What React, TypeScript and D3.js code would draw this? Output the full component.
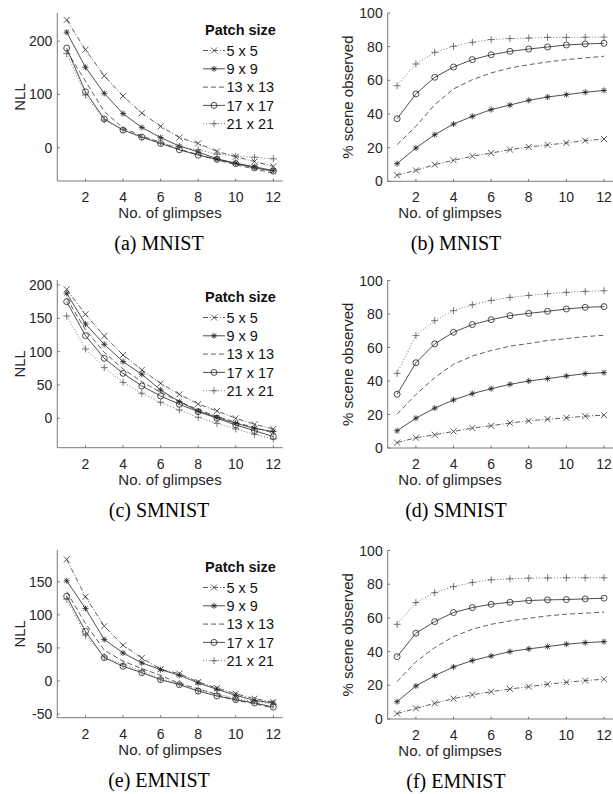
import React from "react";
import * as d3 from "d3";

const glimpses = [1, 2, 3, 4, 5, 6, 7, 8, 9, 10, 11, 12];
const patchSizes = ["5 x 5", "9 x 9", "13 x 13", "17 x 17", "21 x 21"];
const xTicks = [2, 4, 6, 8, 10, 12];

// NLL, MNIST (a)
const nllMnist5 = [240, 184, 135, 97, 65, 40, 19, 8, -7, -17, -26, -35];
const nllMnist9 = [217, 151, 102, 64, 38, 19, 3, -8, -21, -29, -36, -43];
const nllMnist13 = [182, 125, 68, 37, 22, 10, -3, -13, -23, -32, -40, -48];
const nllMnist17 = [187, 105, 54, 33, 20, 8, -4, -14, -22, -30, -38, -44];
const nllMnist21 = [177, 99, 52, 34, 19, 8, 2, -4, -12, -16, -18, -21];

// % scene observed, MNIST (b)
const obsMnist5 = [3.6, 6.5, 9.9, 12.5, 14.9, 16.8, 18.8, 20.4, 21.6, 22.8, 24.2, 25.1];
const obsMnist9 = [10.5, 19.8, 27.7, 34, 38.6, 42.6, 45.3, 48.1, 50.1, 51.5, 52.9, 54];
const obsMnist13 = [21.8, 32.7, 45.5, 54.9, 60.4, 64.4, 67.3, 69.3, 70.9, 72.3, 73.3, 74.3];
const obsMnist17 = [37.2, 51.9, 61.8, 67.9, 72.3, 75.2, 77.2, 78.6, 79.8, 81, 81.6, 82];
const obsMnist21 = [56.8, 69.7, 76.6, 80.2, 82.6, 84.2, 84.8, 85.1, 85.5, 85.5, 85.6, 85.7];

// NLL, SMNIST (c)
const nllSmnist5 = [193.5, 156, 123.5, 95, 72.5, 52.5, 36, 21.5, 11, 0, -9, -16];
const nllSmnist9 = [187.5, 141.5, 111, 85, 66, 42.5, 25, 11, 1.5, -7.5, -15, -20];
const nllSmnist13 = [180, 133, 99, 74, 55, 39, 25, 13, 3, -6, -14, -22];
const nllSmnist17 = [175, 124, 90, 67.5, 48.5, 33.5, 21, 10, 0, -10, -18.5, -27.5];
const nllSmnist21 = [153.5, 104, 76, 54, 37.5, 24, 12.5, 1.5, -7.5, -16, -24, -31];

// % scene observed, SMNIST (d)
const obsSmnist5 = [3.2, 6.1, 7.9, 9.9, 11.9, 13.3, 14.9, 16.2, 17.2, 18, 19, 19.6];
const obsSmnist9 = [10.3, 17.8, 23.8, 28.7, 32.5, 35.4, 38, 40, 41.4, 43, 44.4, 45];
const obsSmnist13 = [20.2, 32, 42, 50, 54.9, 58.2, 60.8, 62.4, 64.2, 65.3, 66.5, 67.3];
const obsSmnist17 = [32.1, 50.9, 62.2, 69.1, 73.7, 76.6, 79, 80.4, 81.6, 83, 84, 84.4];
const obsSmnist21 = [44.6, 67.1, 76, 82, 85.5, 88.1, 89.9, 91.1, 92.1, 92.9, 93.5, 93.9];

// NLL, EMNIST (e)
const nllEmnist5 = [183.8, 127.3, 82.8, 54, 34.8, 17.7, 11.1, -1.5, -10.6, -19.2, -26.8, -31.8];
const nllEmnist9 = [151.5, 109.6, 62.6, 42.4, 27.3, 17.2, 8.6, -3, -12.6, -21.7, -29.3, -33.3];
const nllEmnist13 = [135, 87, 46.5, 30, 18.7, 8.6, -4, -11.6, -20.7, -29.3, -34.3, -41];
const nllEmnist17 = [128, 75, 35.4, 22.2, 12.6, 2, -5.6, -15.2, -22.7, -28.3, -33.3, -39.4];
const nllEmnist21 = [123.7, 69.2, 36.4, 25.3, 15.2, 3.5, -4, -14, -19.2, -26.8, -30.8, -35.4];

// % scene observed, EMNIST (f)
const obsEmnist5 = [3.2, 6.3, 9.3, 12.1, 14.3, 16.2, 17.8, 19.2, 20.6, 21.8, 22.8, 23.6];
const obsEmnist9 = [10.3, 19.6, 25.7, 30.9, 34.7, 37.4, 40, 41.6, 43, 44.4, 45.3, 45.9];
const obsEmnist13 = [22.2, 34, 42.4, 48.9, 53.3, 56.2, 58.2, 59.8, 61.2, 62.2, 62.8, 63.4];
const obsEmnist17 = [37, 50.9, 57.8, 63.2, 66.1, 68.1, 69.3, 70.3, 70.7, 70.9, 71.3, 71.7];
const obsEmnist21 = [56.2, 69.1, 75, 78.6, 81, 82.6, 83.2, 83.6, 83.7, 83.8, 83.8, 83.8];

const nllTicksA = [0, 100, 200];
const nllTicksC = [0, 50, 100, 150, 200];
const nllTicksE = [-50, 0, 50, 100, 150];
const obsTicks = [0, 20, 40, 60, 80, 100];

const captions = ["(a) MNIST", "(b) MNIST", "(c) SMNIST", "(d) SMNIST", "(e) EMNIST", "(f) EMNIST"];

type Style = { dash: string; marker: string; color: string };
const styles: Style[] = [
  { dash: "5,2,1,2", marker: "x", color: "#333" },
  { dash: "", marker: "*", color: "#222" },
  { dash: "5,3", marker: "", color: "#333" },
  { dash: "", marker: "o", color: "#222" },
  { dash: "1,2", marker: "+", color: "#555" },
];

const FONT = "Liberation Sans, Arial, Helvetica, sans-serif";
const TXT = "#262626";
const AX = "#555";

function Marker({ type, x, y, color }: { type: string; x: number; y: number; color: string }) {
  const s = 3;
  const common = { stroke: color, strokeWidth: 0.8, fill: "none" };
  if (type === "x")
    return (
      <g {...common}>
        <line x1={x - s} y1={y - s} x2={x + s} y2={y + s} />
        <line x1={x - s} y1={y + s} x2={x + s} y2={y - s} />
      </g>
    );
  if (type === "+")
    return (
      <g {...common}>
        <line x1={x - s - 0.5} y1={y} x2={x + s + 0.5} y2={y} />
        <line x1={x} y1={y - s - 0.5} x2={x} y2={y + s + 0.5} />
      </g>
    );
  if (type === "*")
    return (
      <g {...common}>
        <line x1={x - s} y1={y} x2={x + s} y2={y} />
        <line x1={x} y1={y - s} x2={x} y2={y + s} />
        <line x1={x - 2.2} y1={y - 2.2} x2={x + 2.2} y2={y + 2.2} />
        <line x1={x - 2.2} y1={y + 2.2} x2={x + 2.2} y2={y - 2.2} />
      </g>
    );
  if (type === "o") return <circle cx={x} cy={y} r={3} {...common} />;
  return null;
}

type PanelProps = {
  series: number[][];
  yDomain: [number, number];
  yRange: [number, number];
  xRange: [number, number];
  yTicks: number[];
  yLabel: string;
  yLabelX: number;
  xLabelX: number;
  caption: string;
  captionX: number;
  legend: boolean;
};

function Panel(p: PanelProps) {
  const x = d3.scaleLinear().domain([0.5, 12.5]).range(p.xRange);
  const y = d3.scaleLinear().domain(p.yDomain).range(p.yRange);
  const [bottom, top] = p.yRange;
  const [left, right] = p.xRange;
  const line = d3
    .line<number>()
    .x((_, i) => x(glimpses[i]))
    .y((v) => y(v));
  const midY = (top + bottom) / 2;
  return (
    <g>
      {/* axes */}
      <line x1={left} y1={bottom} x2={right} y2={bottom} stroke={AX} strokeWidth={0.8} />
      <line x1={left} y1={top} x2={left} y2={bottom} stroke={AX} strokeWidth={0.8} />
      {xTicks.map((t) => (
        <g key={"xt" + t}>
          <line x1={x(t)} x2={x(t)} y1={bottom} y2={bottom - 2.5} stroke={AX} strokeWidth={0.8} />
          <text x={x(t)} y={bottom + 21} textAnchor="middle" fontFamily={FONT} fontSize={14} fill={TXT}>
            {t}
          </text>
        </g>
      ))}
      {p.yTicks.map((t) => (
        <g key={"yt" + t}>
          <line x1={left} x2={left + 2.5} y1={y(t)} y2={y(t)} stroke={AX} strokeWidth={0.8} />
          <text x={left - 5} y={y(t) + 5} textAnchor="end" fontFamily={FONT} fontSize={14} fill={TXT}>
            {t}
          </text>
        </g>
      ))}
      <text x={p.xLabelX} y={bottom + 37} textAnchor="middle" fontFamily={FONT} fontSize={15} fill={TXT}>
        No. of glimpses
      </text>
      <text
        transform={`translate(${p.yLabelX},${midY}) rotate(-90)`}
        textAnchor="middle"
        fontFamily={FONT}
        fontSize={15}
        fill={TXT}
      >
        {p.yLabel}
      </text>
      {/* series */}
      {p.series.map((s, k) => {
        const st = styles[k];
        return (
          <g key={"s" + k}>
            <path d={line(s) || ""} fill="none" stroke={st.color} strokeWidth={0.8} strokeDasharray={st.dash} />
            {st.marker &&
              s.map((v, i) => <Marker key={i} type={st.marker} x={x(glimpses[i])} y={y(v)} color={st.color} />)}
          </g>
        );
      })}
      {/* legend */}
      {p.legend && (
        <g>
          <text x={205} y={top + 22} fontFamily={FONT} fontSize={14.5} fontWeight="bold" fill="#111">
            Patch size
          </text>
          {patchSizes.map((name, k) => {
            const st = styles[k];
            const ly = top + 37.5 + k * 18.3;
            return (
              <g key={"lg" + k}>
                <line x1={203} x2={225} y1={ly} y2={ly} stroke={st.color} strokeWidth={0.8} strokeDasharray={st.dash} />
                {st.marker && <Marker type={st.marker} x={214} y={ly} color={st.color} />}
                <text x={226.5} y={ly + 5.2} fontFamily={FONT} fontSize={14.5} fill="#111">
                  {name}
                </text>
              </g>
            );
          })}
        </g>
      )}
      <text
        x={p.captionX}
        y={bottom + 69}
        textAnchor="middle"
        fontFamily="Liberation Serif, Times New Roman, serif"
        fontSize={20}
        fill="#000"
      >
        {p.caption}
      </text>
    </g>
  );
}

export default function App() {
  const L: [number, number] = [57.3, 282.7];
  const R: [number, number] = [387.7, 613.4];
  return (
    <svg
      width={613}
      height={794}
      style={{ position: "absolute", left: 0, top: 0, background: "#fff" }}
    >
      <Panel
        series={[nllMnist5, nllMnist9, nllMnist13, nllMnist17, nllMnist21]}
        yDomain={[-62.6, 253]}
        yRange={[181, 13]}
        xRange={L}
        yTicks={nllTicksA}
        yLabel="NLL"
        yLabelX={25}
        xLabelX={170}
        caption={captions[0]}
        captionX={159}
        legend
      />
      <Panel
        series={[obsMnist5, obsMnist9, obsMnist13, obsMnist17, obsMnist21]}
        yDomain={[0, 100]}
        yRange={[181.3, 13]}
        xRange={R}
        yTicks={obsTicks}
        yLabel="% scene observed"
        yLabelX={352.5}
        xLabelX={450}
        caption={captions[1]}
        captionX={456}
        legend={false}
      />
      <Panel
        series={[nllSmnist5, nllSmnist9, nllSmnist13, nllSmnist17, nllSmnist21]}
        yDomain={[-44.1, 207.5]}
        yRange={[447.7, 280]}
        xRange={L}
        yTicks={nllTicksC}
        yLabel="NLL"
        yLabelX={25}
        xLabelX={170}
        caption={captions[2]}
        captionX={159}
        legend
      />
      <Panel
        series={[obsSmnist5, obsSmnist9, obsSmnist13, obsSmnist17, obsSmnist21]}
        yDomain={[0, 100]}
        yRange={[448, 280.5]}
        xRange={R}
        yTicks={obsTicks}
        yLabel="% scene observed"
        yLabelX={352.5}
        xLabelX={450}
        caption={captions[3]}
        captionX={456}
        legend={false}
      />
      <Panel
        series={[nllEmnist5, nllEmnist9, nllEmnist13, nllEmnist17, nllEmnist21]}
        yDomain={[-55.5, 198]}
        yRange={[717.7, 550]}
        xRange={L}
        yTicks={nllTicksE}
        yLabel="NLL"
        yLabelX={25}
        xLabelX={170}
        caption={captions[4]}
        captionX={159}
        legend
      />
      <Panel
        series={[obsEmnist5, obsEmnist9, obsEmnist13, obsEmnist17, obsEmnist21]}
        yDomain={[0, 100]}
        yRange={[719, 550.5]}
        xRange={R}
        yTicks={obsTicks}
        yLabel="% scene observed"
        yLabelX={352.5}
        xLabelX={450}
        caption={captions[5]}
        captionX={456}
        legend={false}
      />
    </svg>
  );
}
